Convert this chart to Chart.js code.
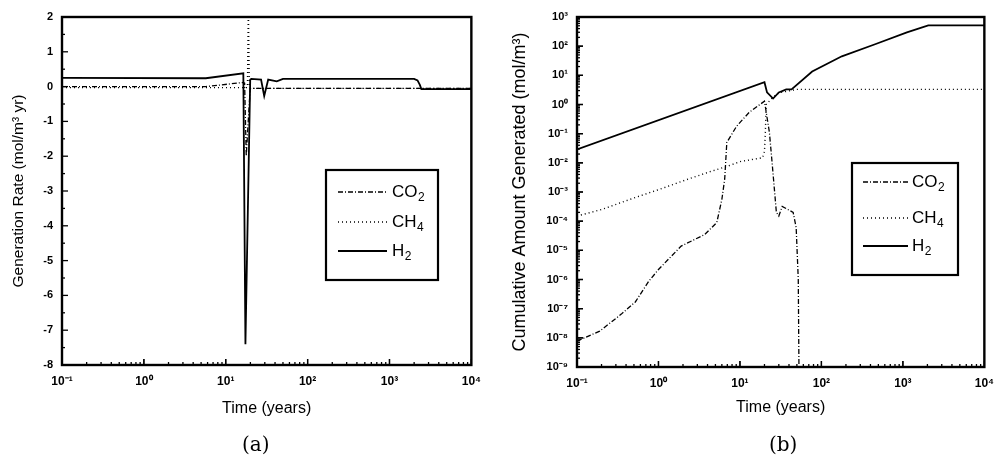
<!DOCTYPE html>
<html><head><meta charset="utf-8">
<script src="https://cdn.jsdelivr.net/npm/chart.js@4/dist/chart.umd.min.js"></script>
<style>
html,body{margin:0;padding:0;background:#fff;width:1003px;height:464px;overflow:hidden}
#wa{position:absolute;left:0;top:0;width:490px;height:464px}
#wb{position:absolute;left:490px;top:0;width:513px;height:464px}
.cap{position:absolute;font-family:"DejaVu Serif","Liberation Serif",serif;font-size:20px;color:#000;top:432px;line-height:24px}
</style></head><body>
<div id="wa"><canvas id="ca" width="490" height="464"></canvas></div>
<div id="wb"><canvas id="cb" width="513" height="464"></canvas></div>
<div class="cap" style="left:242px">(a)</div>
<div class="cap" style="left:769px">(b)</div>
<script>
// ---------- data ----------
const seriesNames = ['CO2', 'CH4', 'H2'];
const xTickValues = [0.1, 1, 10, 100, 1000, 10000];
const xTickLabels = ['10⁻¹', '10⁰', '10¹', '10²', '10³', '10⁴'];
const yTickValuesA = [2, 1, 0, -1, -2, -3, -4, -5, -6, -7, -8];
const yTickLabelsA = ['2', '1', '0', '-1', '-2', '-3', '-4', '-5', '-6', '-7', '-8'];
const yTickValuesB = [1e3, 1e2, 1e1, 1e0, 1e-1, 1e-2, 1e-3, 1e-4, 1e-5, 1e-6, 1e-7, 1e-8, 1e-9];
const yTickLabelsB = ['10³', '10²', '10¹', '10⁰', '10⁻¹', '10⁻²', '10⁻³', '10⁻⁴', '10⁻⁵', '10⁻⁶', '10⁻⁷', '10⁻⁸', '10⁻⁹'];

// (a) generation rate (mol/m3 yr)
const timeA_CO2 = [0.1, 5.7, 16.4, 17.0, 17.8, 18.5, 19.9, 25, 10000];
const rateA_CO2 = [0.0, 0.0, 0.12, 0.1, -2.0, -1.3, -0.05, -0.05, -0.05];
const timeA_CH4 = [0.1, 16.4, 18.4, 18.9, 19.4, 20.5, 10000];
const rateA_CH4 = [-0.03, -0.03, -0.03, 2.3, -0.03, -0.05, -0.05];
const timeA_H2 = [0.1, 5.7, 16.4, 17.4, 19.9, 20.5, 27, 29.5, 33, 38, 42, 50, 2000, 2200, 2350, 2450, 10000];
const rateA_H2 = [0.25, 0.24, 0.38, -7.4, 0.2, 0.22, 0.2, -0.27, 0.2, 0.17, 0.15, 0.22, 0.22, 0.18, 0.05, -0.07, -0.07];

// (b) cumulative amount generated (mol/m3)
const timeB_CO2 = [0.1, 0.19, 0.35, 0.52, 0.76, 1.0, 1.9, 3.7, 5.2, 6.0, 6.5, 6.9, 9.1, 13, 20, 23, 25, 28, 30, 33, 45, 49, 52, 53];
const amtB_CO2 = [7.7e-9, 1.7e-8, 6.5e-8, 1.7e-7, 8.7e-7, 2.2e-6, 1.4e-5, 3.5e-5, 9e-5, 5.6e-4, 2.8e-3, 5e-2, 0.18, 0.54, 1.3, 0.11, 8e-3, 2e-4, 1.5e-4, 3.2e-4, 2e-4, 6e-5, 1e-6, 1e-9];
const timeB_CH4 = [0.1, 0.2, 0.52, 1, 2.3, 4.4, 7, 10, 19, 20, 20.5, 21, 25, 30, 50, 10000];
const amtB_CH4 = [1.5e-4, 2.5e-4, 6.5e-4, 1.2e-3, 2.75e-3, 5.1e-3, 7.6e-3, 1.1e-2, 1.5e-2, 2.5e-2, 0.11, 1.0, 1.7, 2.5, 3.3, 3.3];
const timeB_H2 = [0.1, 20, 21.5, 25.5, 30, 37, 43, 77, 178, 447, 1120, 2050, 10000];
const amtB_H2 = [0.029, 5.8, 2.6, 1.6, 2.6, 3.3, 3.3, 13.5, 45, 114, 295, 515, 515];

// ---------- helpers ----------
const pts = (xs, ys) => xs.map((x, i) => ({x: x, y: ys[i]}));
Chart.defaults.font.family = '"Liberation Sans", Arial, sans-serif';
Chart.defaults.color = '#000';

const styles = [
  {borderDash: [5, 2, 1, 2], borderWidth: 1.3},
  {borderDash: [1, 3], borderWidth: 1.4},
  {borderDash: [], borderWidth: 1.8}
];

function makeDatasets(series) {
  return series.map((d, i) => ({
    label: seriesNames[i],
    data: d,
    borderColor: '#000',
    backgroundColor: '#000',
    borderWidth: styles[i].borderWidth,
    borderDash: styles[i].borderDash,
    pointRadius: 0,
    tension: 0,
    fill: false
  }));
}

const framePlugin = {
  id: 'frame',
  afterDatasetsDraw(chart, args, opts) {
    const {ctx, chartArea: a, scales} = chart;
    ctx.save();
    ctx.strokeStyle = '#000';
    ctx.lineWidth = 1.3;
    const xs = scales.x;
    for (let e = -1; e < 4; e++) {
      for (let k = 1; k <= 10; k++) {
        const px = xs.getPixelForValue(k * Math.pow(10, e));
        const len = (k === 1 || k === 10) ? 6 : 3;
        ctx.beginPath(); ctx.moveTo(px, a.bottom); ctx.lineTo(px, a.bottom - len); ctx.stroke();
      }
    }
    const ys = scales.y;
    if (opts.logY) {
      for (let e = -9; e < 3; e++) {
        for (let k = 1; k <= 10; k++) {
          const py = ys.getPixelForValue(k * Math.pow(10, e));
          const len = (k === 1 || k === 10) ? 6 : 3;
          ctx.beginPath(); ctx.moveTo(a.left, py); ctx.lineTo(a.left + len, py); ctx.stroke();
        }
      }
    } else {
      for (let v = ys.min; v <= ys.max + 1e-9; v += 0.5) {
        const py = ys.getPixelForValue(v);
        const len = (Math.abs(v - Math.round(v)) < 1e-9) ? 6 : 3;
        ctx.beginPath(); ctx.moveTo(a.left, py); ctx.lineTo(a.left + len, py); ctx.stroke();
      }
    }
    ctx.lineWidth = 2.4;
    ctx.strokeRect(a.left, a.top, a.right - a.left, a.bottom - a.top);

    const L = opts.legend;
    ctx.fillStyle = '#fff';
    ctx.fillRect(L.left, L.top, L.width, L.height);
    ctx.lineWidth = 2.2;
    ctx.strokeRect(L.left, L.top, L.width, L.height);
    chart.data.datasets.forEach((ds, i) => {
      const y = L.rows[i];
      ctx.save();
      ctx.lineWidth = ds.borderWidth;
      ctx.setLineDash(ds.borderDash);
      ctx.beginPath(); ctx.moveTo(L.lineX0, y); ctx.lineTo(L.lineX1, y); ctx.stroke();
      ctx.restore();
      const m = ds.label.match(/^([A-Za-z]+)(\d*)$/);
      ctx.fillStyle = '#000';
      ctx.textBaseline = 'middle';
      ctx.textAlign = 'left';
      ctx.font = '17px "Liberation Sans", Arial, sans-serif';
      ctx.fillText(m[1], L.textX, y);
      const w = ctx.measureText(m[1]).width;
      ctx.font = '12px "Liberation Sans", Arial, sans-serif';
      ctx.fillText(m[2], L.textX + w + 0.5, y + 6);
    });
    ctx.restore();
  }
};

function xScale(titleSize, titlePad, height) {
  return {
    type: 'logarithmic',
    min: 0.1, max: 10000,
    afterBuildTicks: s => { s.ticks = xTickValues.map(v => ({value: v})); },
    afterFit: s => { s.height = height; },
    grid: {display: false, drawTicks: false},
    border: {display: true, color: '#000', width: 2},
    ticks: {
      autoSkip: false, maxRotation: 0, padding: 9,
      font: {size: 12, weight: 'bold'},
      callback: v => xTickLabels[xTickValues.indexOf(v)]
    },
    title: {display: true, text: 'Time (years)', font: {size: titleSize}, padding: {top: 0, bottom: titlePad}}
  };
}

// ---------- chart (a) ----------
new Chart(document.getElementById('ca'), {
  type: 'line',
  data: {datasets: makeDatasets([pts(timeA_CO2, rateA_CO2), pts(timeA_CH4, rateA_CH4), pts(timeA_H2, rateA_H2)])},
  options: {
    responsive: false, animation: false, devicePixelRatio: 1,
    layout: {padding: {left: 0, right: 15, top: 17, bottom: 40}},
    plugins: {
      legend: {display: false}, tooltip: {enabled: false},
      frame: {logY: false, legend: {left: 326, top: 170, width: 112, height: 110, lineX0: 338, lineX1: 387, textX: 392, rows: [192, 222, 251]}}
    },
    scales: {
      x: xScale(16, 6, 59),
      y: {
        type: 'linear', min: -8, max: 2,
        afterBuildTicks: s => { s.ticks = yTickValuesA.map(v => ({value: v})); },
        afterFit: s => { s.width = 62; },
        grid: {display: false, drawTicks: false},
        border: {display: true, color: '#000', width: 2},
        ticks: {padding: 9, font: {size: 11, weight: 'bold'}, callback: v => yTickLabelsA[yTickValuesA.indexOf(v)]},
        title: {display: true, text: 'Generation Rate (mol/m³ yr)', font: {size: 15.5}, padding: {top: 9, bottom: 0}}
      }
    }
  },
  plugins: [framePlugin]
});

// ---------- chart (b) ----------
new Chart(document.getElementById('cb'), {
  type: 'line',
  data: {datasets: makeDatasets([pts(timeB_CO2, amtB_CO2), pts(timeB_CH4, amtB_CH4), pts(timeB_H2, amtB_H2)])},
  options: {
    responsive: false, animation: false, devicePixelRatio: 1,
    layout: {padding: {left: 0, right: 11, top: 17, bottom: 40}},
    plugins: {
      legend: {display: false}, tooltip: {enabled: false},
      frame: {logY: true, legend: {left: 362, top: 163, width: 106, height: 112, lineX0: 373, lineX1: 418, textX: 422, rows: [182, 218, 246]}}
    },
    scales: {
      x: xScale(16, 7, 57),
      y: {
        type: 'logarithmic', min: 1e-9, max: 1e3,
        afterBuildTicks: s => { s.ticks = yTickValuesB.map(v => ({value: v})); },
        afterFit: s => { s.width = 87; },
        grid: {display: false, drawTicks: false},
        border: {display: true, color: '#000', width: 2},
        ticks: {autoSkip: false, padding: 9, font: {size: 11, weight: 'bold'}, callback: v => yTickLabelsB[yTickValuesB.indexOf(v)]},
        title: {display: true, text: 'Cumulative Amount Generated (mol/m³)', font: {size: 18}, padding: {top: 19, bottom: 0}}
      }
    }
  },
  plugins: [framePlugin]
});
</script>
</body></html>
